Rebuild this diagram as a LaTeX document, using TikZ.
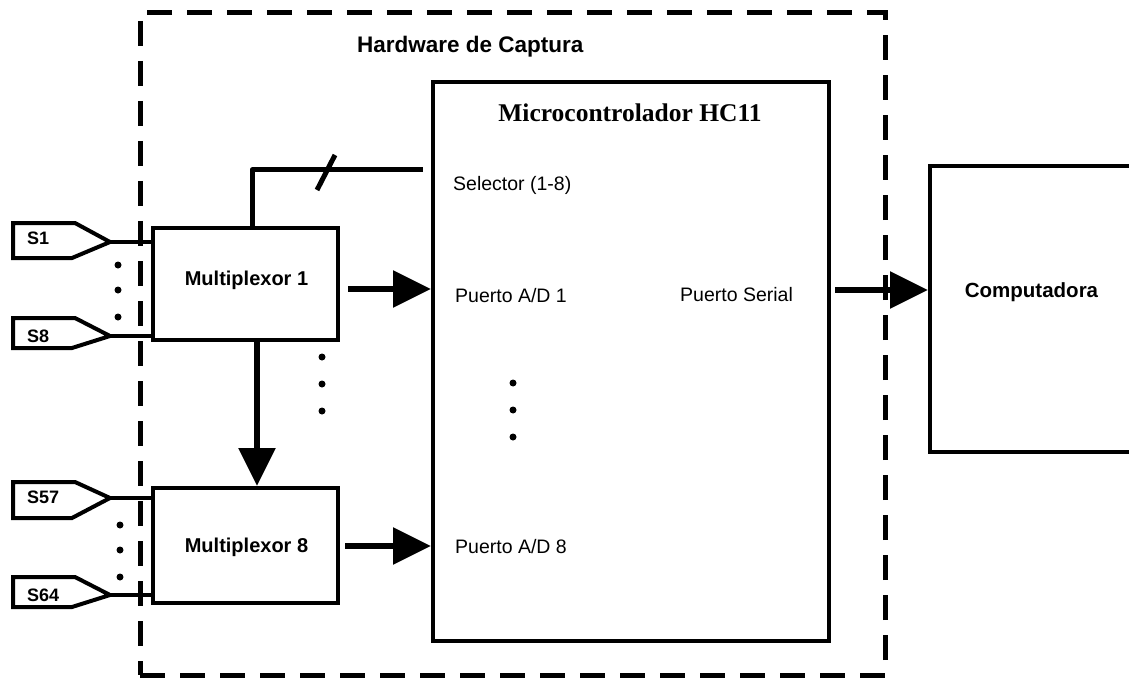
\documentclass[tikz,border=0pt]{standalone}
\usepackage{fontspec}
\setmainfont{Liberation Sans}
\newfontfamily\serifb{Liberation Serif}
\usetikzlibrary{arrows.meta}
\begin{document}
\begin{tikzpicture}[x=1pt,y=-1pt,
 box/.style={draw, line width=4pt, inner sep=0pt},
 frame/.style={draw, line width=5pt, dash pattern=on 25pt off 15pt, inner sep=0pt},
 bigarrow/.style={line width=6pt, -{Triangle[length=38pt,width=36pt]}},
 wire/.style={line width=4pt},
 sensor/.style={line width=4pt, line join=miter},
 lbl/.style={font=\fontsize{19.5}{22}\selectfont, anchor=base west, inner sep=0pt},
 blbl/.style={font=\bfseries\fontsize{20}{24}\selectfont, anchor=base, inner sep=0pt},
 slbl/.style={font=\bfseries\fontsize{18}{20}\selectfont, anchor=base west, inner sep=0pt},
 dotc/.style={fill=black}
]
\useasboundingbox (0,0) rectangle (1129,679);
\clip (0,0) rectangle (1129,679);

% frame
\node[frame, minimum width=745pt, minimum height=662pt] (hw) at (512.5,344) {};
\node[font=\bfseries\fontsize{22.5}{26}\selectfont, anchor=base west, inner sep=0pt] (hwt) at (357,53) {Hardware de Captura};

% blocks
\node[box, minimum width=396pt, minimum height=559pt] (mc) at (631,361.5) {};
\node[font=\serifb\bfseries\fontsize{25.5}{28}\selectfont, anchor=base, inner sep=0pt] (mct) at (630,122) {Microcontrolador HC11};
\node[lbl] (sel) at (453,190) {Selector (1-8)};
\node[lbl] (ad1) at (455,302) {Puerto A/D 1};
\node[lbl] (ser) at (680,301) {Puerto Serial};
\node[lbl] (ad8) at (455,553) {Puerto A/D 8};

\node[box, minimum width=185pt, minimum height=112pt] (mux1) at (245.5,284) {};
\node[blbl] (mux1t) at (246.5,285) {Multiplexor 1};
\node[box, minimum width=185pt, minimum height=115pt] (mux8) at (245.5,545.5) {};
\node[blbl] (mux8t) at (246.5,552) {Multiplexor 8};

\node[box, minimum width=240pt, minimum height=286pt] (comp) at (1050,309) {};
\node[blbl, font=\bfseries\fontsize{20.5}{24}\selectfont] (compt) at (1031.5,297) {Computadora};

% sensors
\draw[sensor] (13,223) -- (75,223) -- (110,242) -- (72,258) -- (13,258) -- cycle;
\coordinate (s1) at (110,242);
\node[slbl] (s1t) at (27,244) {S1};
\draw[sensor] (13,318) -- (75,318) -- (110,336) -- (72,348) -- (13,348) -- cycle;
\coordinate (s8) at (110,336);
\node[slbl] (s8t) at (27,342) {S8};
\draw[sensor] (13,482) -- (75,482) -- (110,498) -- (72,518) -- (13,518) -- cycle;
\coordinate (s57) at (110,498);
\node[slbl] (s57t) at (27,503) {S57};
\draw[sensor] (13,577) -- (75,577) -- (110,595) -- (72,607) -- (13,607) -- cycle;
\coordinate (s64) at (110,595);
\node[slbl] (s64t) at (27,601) {S64};

\draw[wire] (s1) -- (s1 -| mux1.west);
\draw[wire] (s8) -- (s8 -| mux1.west);
\draw[wire] (s57) -- (s57 -| mux8.west);
\draw[wire] (s64) -- (s64 -| mux8.west);

% dots
\foreach \y in {265,290,317} \fill[dotc] (118,\y) circle (3.5pt);
\foreach \y in {525,550,577} \fill[dotc] (120,\y) circle (3.5pt);
\foreach \y in {357,384,411} \fill[dotc] (322,\y) circle (3.5pt);
\foreach \y in {383,410,437} \fill[dotc] (513,\y) circle (3.5pt);

% selector
\coordinate (selc) at (252,170);
\draw[line width=5pt, line join=round, shorten >=8pt] (mux1.north -| selc) -- (selc) -- (selc -| mc.west);
\draw[line width=5pt] (317,190) -- (335,155);

% arrows
\coordinate (a1) at (348,289);
\draw[bigarrow] (a1) -- (a1 -| mc.west);
\coordinate (a8) at (345,546);
\draw[bigarrow] (a8) -- (a8 -| mc.west);
\coordinate (vx) at (257,0);
\draw[bigarrow] (mux1.south -| vx) -- (mux8.north -| vx);
\coordinate (sp) at (835,290);
\draw[bigarrow] (sp) -- (sp -| comp.west);
\end{tikzpicture}
\end{document}
